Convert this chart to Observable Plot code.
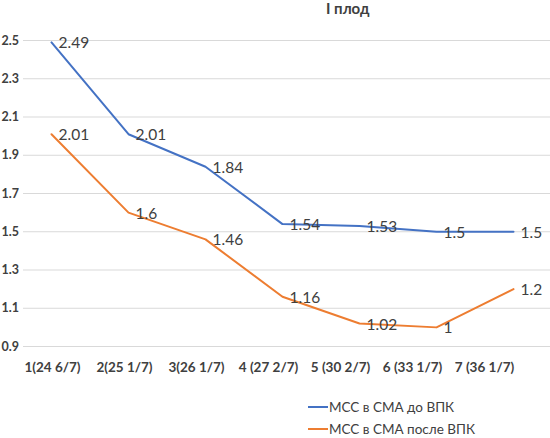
<!DOCTYPE html>
<html>
<head>
<meta charset="utf-8">
<script src="https://cdn.jsdelivr.net/npm/d3@7"></script>
<script src="https://cdn.jsdelivr.net/npm/@observablehq/plot@0.6"></script>
<style>
  body { margin: 0; background: #fff; }
  #wrap { position: relative; width: 550px; height: 438px; overflow: hidden; font-family: Lato, "Open Sans", sans-serif; }
  #title { position: absolute; top: -1px; left: 326px; font-size: 15px; font-weight: bold; color: #404040; }
  #chart { position: absolute; top: 0; left: 0; }
  #xaxis { position: absolute; top: 355px; left: 0; }
  .leg { position: absolute; left: 308px; font-size: 13.5px; color: #404040; display: flex; align-items: center; line-height: 16px; }
  .leg span.sw { display: inline-block; width: 20px; height: 2px; margin-right: 1px; }
</style>
</head>
<body>
<div id="wrap">
  <div id="title">I плод</div>
  <div id="chart"></div>
  <div id="xaxis"></div>
  <div class="leg" style="top:399px"><span class="sw" style="background:#4472C4"></span>МСС в СМА до ВПК</div>
  <div class="leg" style="top:421px"><span class="sw" style="background:#ED7D31"></span>МСС в СМА после ВПК</div>
</div>
<script>
const categories = ["1(24 6/7)", "2(25 1/7)", "3(26 1/7)", "4 (27 2/7)", "5 (30 2/7)", "6 (33 1/7)", "7 (36 1/7)"];
const before = [2.49, 2.01, 1.84, 1.54, 1.53, 1.5, 1.5];
const after = [2.01, 1.6, 1.46, 1.16, 1.02, 1, 1.2];
const seriesNames = ["МСС в СМА до ВПК", "МСС в СМА после ВПК"];
const yTicks = [0.9, 1.1, 1.3, 1.5, 1.7, 1.9, 2.1, 2.3, 2.5];
const colors = ["#4472C4", "#ED7D31"];

const data = [];
categories.forEach((c, i) => {
  data.push({cat: c, value: before[i], series: seriesNames[0]});
  data.push({cat: c, value: after[i], series: seriesNames[1]});
});

const font = "Lato, 'Open Sans', sans-serif";

const chart = Plot.plot({
  width: 550,
  height: 356,
  marginLeft: 51,
  marginRight: 37,
  marginTop: 40,
  marginBottom: 10,
  style: {fontFamily: font, background: "transparent"},
  x: {type: "point", domain: categories, padding: 0, axis: null},
  y: {domain: [0.9, 2.5], axis: null},
  color: {domain: seriesNames, range: colors},
  marks: [
    Plot.ruleY(yTicks, {stroke: "#d9d9d9", strokeWidth: 1, insetLeft: -28, insetRight: -37}),
    Plot.axisY(yTicks, {
      tickSize: 0, tickPadding: 50, textAnchor: "start", tickFormat: d3.format(".1f"),
      fontSize: 12.5, fontWeight: "bold", fill: "#404040", label: null
    }),
    Plot.line(data, {x: "cat", y: "value", z: "series", stroke: "series", strokeWidth: 2}),
    Plot.text(data, {
      x: "cat", y: "value", text: d => String(d.value), textAnchor: "start", dx: 7, dy: 1,
      fontSize: 15.5, fill: "#404040"
    })
  ]
});
document.getElementById("chart").appendChild(chart);

const xaxis = Plot.plot({
  width: 550,
  height: 24,
  marginLeft: 50,
  marginRight: 65,
  marginTop: 0,
  marginBottom: 0,
  style: {fontFamily: font, background: "transparent"},
  x: {type: "point", domain: categories, padding: 0, axis: null},
  marks: [
    Plot.text(categories, {x: d => d, frameAnchor: "middle", fontSize: 13.5, fontWeight: "bold", fill: "#404040"})
  ]
});
document.getElementById("xaxis").appendChild(xaxis);
</script>
</body>
</html>
